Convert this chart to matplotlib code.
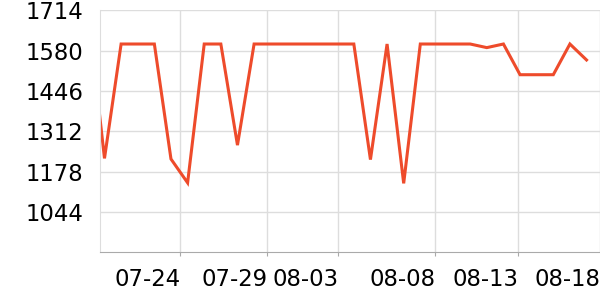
import matplotlib
matplotlib.use("Agg")
from matplotlib import pyplot as plt

plt.rcParams["font.family"] = ["DejaVu Sans"]

# one value per day, first point sits just left of the visible area
values = [1714, 1222, 1602, 1602, 1602, 1220, 1141, 1602, 1602, 1266,
          1602, 1602, 1602, 1602, 1602, 1602, 1602, 1218, 1602, 1139,
          1602, 1602, 1602, 1602, 1590, 1602, 1500, 1500, 1500, 1602, 1549]
tick_pos = [5.56, 10.79, 15.07, 20.9, 25.9, 30.81]
tick_labels = ["07-24", "07-29", "08-03", "08-08", "08-13", "08-18"]
y_ticks = [1044, 1178, 1312, 1446, 1580, 1714]

x = list(range(len(values)))

fig = plt.figure(figsize=(6, 3), dpi=100)
ax = fig.add_axes([100 / 600, 1 - 252.3 / 300, 500 / 600, (252.3 - 10.3) / 300])

ax.plot(x, values, color="#ee4b2b", linewidth=2.2, solid_joinstyle="miter")

ax.set_xlim(0.73, 30.81)
ax.set_ylim(910, 1714)

ax.set_yticks(y_ticks)
ax.set_yticklabels([str(v) for v in y_ticks])
ax.set_xticks(tick_pos)
ax.set_xticklabels(tick_labels, ha="right")
ax.xaxis.get_major_ticks()[-1].tick1line.set_visible(False)
ax.xaxis.get_major_ticks()[-1].gridline.set_visible(False)

ax.grid(True, color="#dddddd", linewidth=1)
ax.set_axisbelow(True)
for side in ["top", "right"]:
    ax.spines[side].set_visible(False)
ax.spines["left"].set_color("#dddddd")
ax.spines["bottom"].set_color("#aaaaaa")
ax.tick_params(axis="y", length=0, pad=12, labelsize=16.4)
ax.tick_params(axis="x", length=3, color="#aaaaaa", pad=8, labelsize=16.4)

fig.savefig("out.png", dpi=100)
